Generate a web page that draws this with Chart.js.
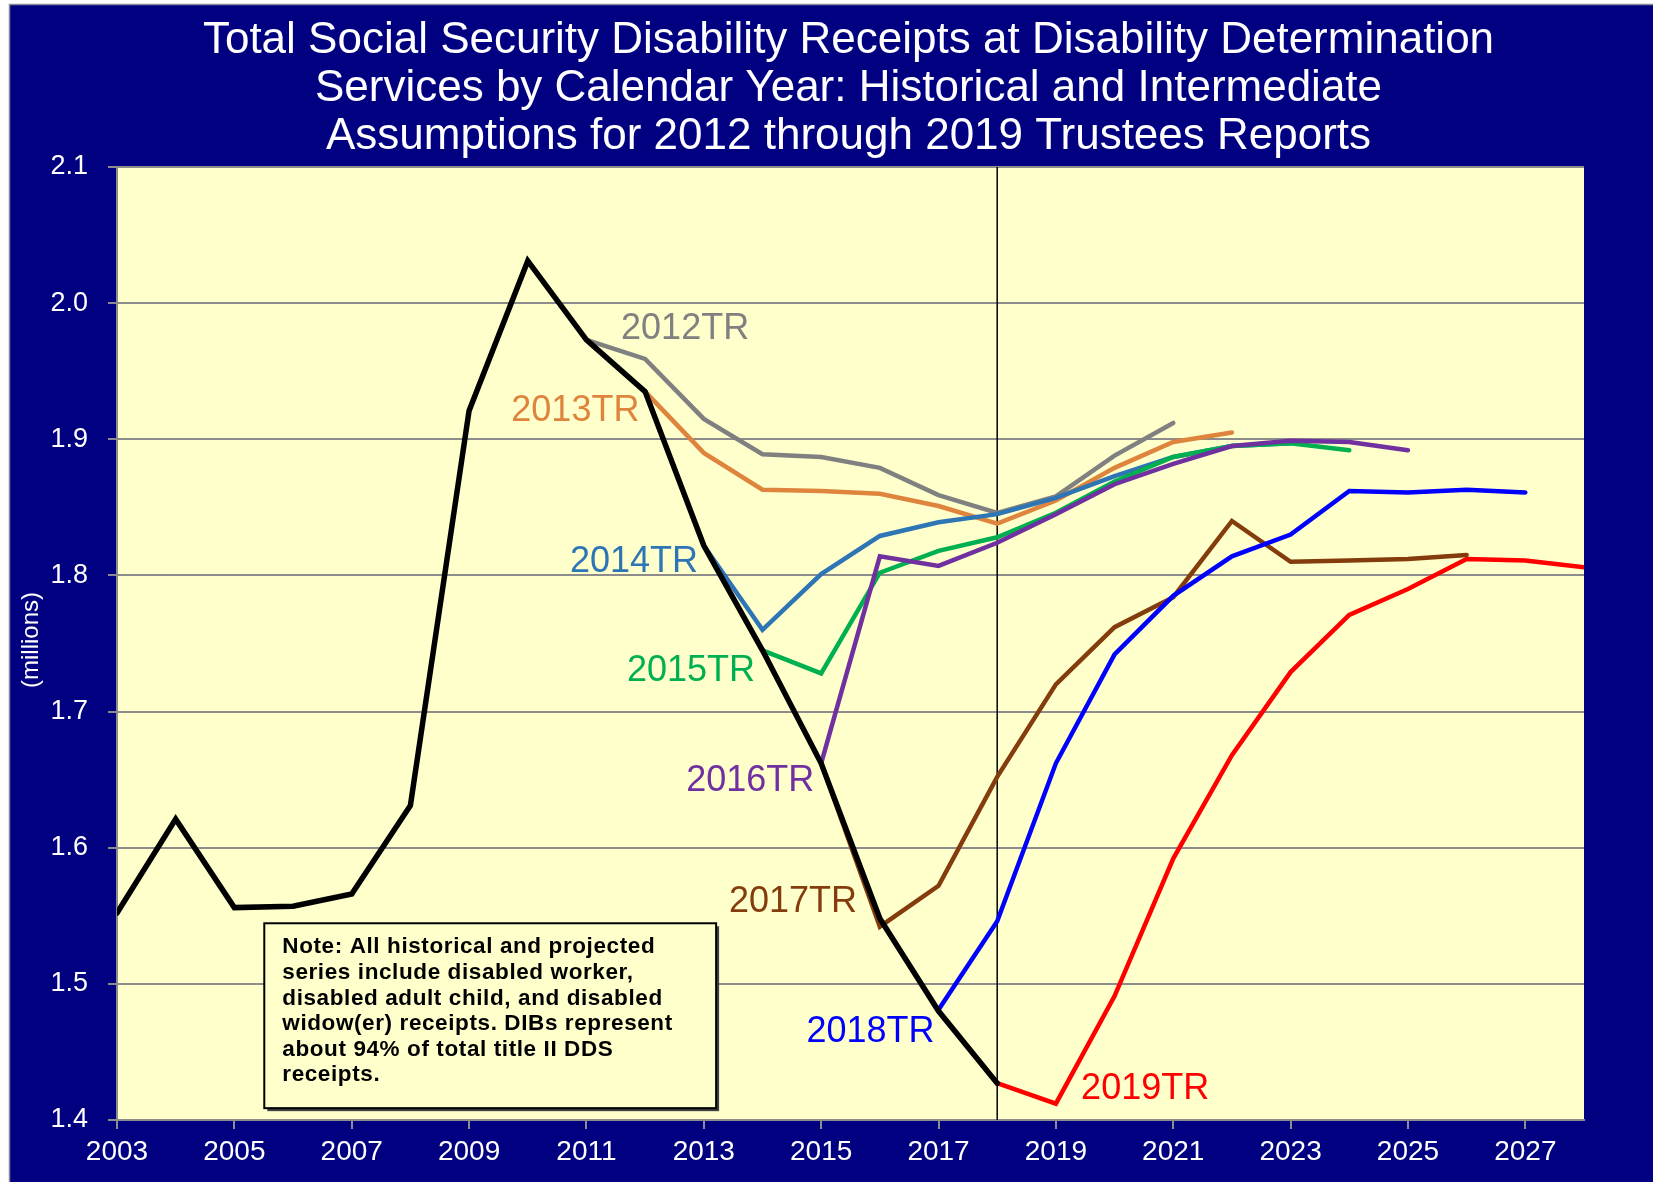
<!DOCTYPE html>
<html>
<head>
<meta charset="utf-8">
<title>Total Social Security Disability Receipts at DDS</title>
<script src="https://cdn.jsdelivr.net/npm/chart.js"></script>
<style>
  html, body { margin: 0; padding: 0; background: #ffffff; }
  canvas { display: block; }
</style>
</head>
<body>
<canvas id="ddsChart" width="1653" height="1182"></canvas>
<script>
// ---- data (millions of receipts) ----
const histYears = [2003, 2004, 2005, 2006, 2007, 2008, 2009, 2010, 2011, 2012, 2013, 2014, 2015, 2016, 2017, 2018];
const historical = [1.552, 1.621, 1.556, 1.557, 1.566, 1.631, 1.921, 2.031, 1.973, 1.935, 1.822, 1.745, 1.662, 1.548, 1.480, 1.427];

const tr2012Years = [2011, 2012, 2013, 2014, 2015, 2016, 2017, 2018, 2019, 2020, 2021];
const tr2012 = [1.973, 1.959, 1.915, 1.889, 1.887, 1.879, 1.859, 1.846, 1.858, 1.888, 1.912];

const tr2013Years = [2012, 2013, 2014, 2015, 2016, 2017, 2018, 2019, 2020, 2021, 2022];
const tr2013 = [1.935, 1.890, 1.863, 1.862, 1.860, 1.851, 1.838, 1.855, 1.879, 1.898, 1.905];

const tr2014Years = [2013, 2014, 2015, 2016, 2017, 2018, 2019, 2020, 2021, 2022, 2023];
const tr2014 = [1.822, 1.760, 1.801, 1.829, 1.839, 1.845, 1.857, 1.873, 1.887, 1.895, 1.897];

const tr2015Years = [2014, 2015, 2016, 2017, 2018, 2019, 2020, 2021, 2022, 2023, 2024];
const tr2015 = [1.745, 1.728, 1.802, 1.818, 1.828, 1.846, 1.869, 1.887, 1.895, 1.897, 1.892];

const tr2016Years = [2015, 2016, 2017, 2018, 2019, 2020, 2021, 2022, 2023, 2024, 2025];
const tr2016 = [1.662, 1.814, 1.807, 1.824, 1.845, 1.867, 1.882, 1.895, 1.899, 1.898, 1.892];

const tr2017Years = [2015, 2016, 2017, 2018, 2019, 2020, 2021, 2022, 2023, 2024, 2025, 2026];
const tr2017 = [1.662, 1.542, 1.572, 1.652, 1.720, 1.762, 1.784, 1.840, 1.810, 1.811, 1.812, 1.815];

const tr2018Years = [2017, 2018, 2019, 2020, 2021, 2022, 2023, 2024, 2025, 2026, 2027];
const tr2018 = [1.481, 1.546, 1.662, 1.742, 1.785, 1.814, 1.830, 1.862, 1.861, 1.863, 1.861];

const tr2019Years = [2018, 2019, 2020, 2021, 2022, 2023, 2024, 2025, 2026, 2027, 2028];
const tr2019 = [1.427, 1.412, 1.491, 1.592, 1.668, 1.729, 1.771, 1.790, 1.812, 1.811, 1.806];

const xTicks = [2003, 2005, 2007, 2009, 2011, 2013, 2015, 2017, 2019, 2021, 2023, 2025, 2027];
const yTicks = [1.4, 1.5, 1.6, 1.7, 1.8, 1.9, 2.0, 2.1];
const lastHistYear = 2018;

const titleLines = [
  'Total Social Security Disability Receipts at Disability Determination',
  'Services by Calendar Year: Historical and Intermediate',
  'Assumptions for 2012 through 2019 Trustees Reports'
];
const noteLines = [
  'Note: All historical and projected',
  'series include disabled worker,',
  'disabled adult child, and disabled',
  'widow(er) receipts. DIBs represent',
  'about 94% of total title II DDS',
  'receipts.'
];

// ---- helpers ----
function pts(xs, ys) {
  return xs.map((x, i) => ({ x: x, y: ys[i] }));
}

function series(label, xs, ys, color, width, order) {
  return {
    label: label,
    data: pts(xs, ys),
    borderColor: color,
    backgroundColor: color,
    borderWidth: width,
    pointRadius: 0,
    tension: 0,
    borderCapStyle: 'round',
    borderJoinStyle: 'miter',
    order: order
  };
}

// label anchors in data units (left edge, vertical middle)
const seriesLabels = [
  { text: '2012TR', color: '#808080', x: 2011.59, y: 1.983 },
  { text: '2013TR', color: '#DE843C', x: 2009.72, y: 1.923 },
  { text: '2014TR', color: '#2E75B6', x: 2010.72, y: 1.812 },
  { text: '2015TR', color: '#00B050', x: 2011.69, y: 1.732 },
  { text: '2016TR', color: '#7030A0', x: 2012.70, y: 1.651 },
  { text: '2017TR', color: '#843C0C', x: 2013.43, y: 1.562 },
  { text: '2018TR', color: '#0000FF', x: 2014.75, y: 1.467 },
  { text: '2019TR', color: '#FF0000', x: 2019.43, y: 1.425 }
];

const frame = {
  id: 'frame',
  beforeDraw(chart) {
    const { ctx, chartArea: a, width, height } = chart;
    ctx.save();
    ctx.fillStyle = '#ffffff';
    ctx.fillRect(0, 0, width, height);
    ctx.fillStyle = '#000080';
    ctx.fillRect(9, 4, width - 9, height - 4);
    ctx.strokeStyle = '#8a8a9a';
    ctx.lineWidth = 1.5;
    ctx.strokeRect(9.5, 4.5, width, height);
    ctx.fillStyle = '#FFFFCC';
    ctx.fillRect(a.left, a.top, a.right - a.left, a.bottom - a.top);

    // title
    ctx.fillStyle = '#ffffff';
    ctx.font = '44px "Liberation Sans", Arial, sans-serif';
    ctx.textAlign = 'center';
    ctx.textBaseline = 'middle';
    const cx = (a.left + a.right) / 2 - 2;
    titleLines.forEach((t, i) => ctx.fillText(t, cx, 41 + i * 48));

    // y axis caption
    ctx.font = '24px "Liberation Sans", Arial, sans-serif';
    ctx.translate(31, 640);
    ctx.rotate(-Math.PI / 2);
    ctx.fillText('(millions)', 0, 0);
    ctx.restore();
  },
  beforeDatasetsDraw(chart) {
    const { ctx, chartArea: a, scales } = chart;
    const x = scales.x.getPixelForValue(lastHistYear);
    ctx.save();
    ctx.strokeStyle = '#000000';
    ctx.lineWidth = 1.5;
    ctx.beginPath();
    ctx.moveTo(x, a.top);
    ctx.lineTo(x, a.bottom);
    ctx.stroke();
    ctx.restore();
  },
  afterDatasetsDraw(chart) {
    const { ctx, scales } = chart;
    ctx.save();
    ctx.font = '36px "Liberation Sans", Arial, sans-serif';
    ctx.textAlign = 'left';
    ctx.textBaseline = 'middle';
    seriesLabels.forEach(l => {
      ctx.fillStyle = l.color;
      ctx.fillText(l.text, scales.x.getPixelForValue(l.x), scales.y.getPixelForValue(l.y) + 3);
    });

    // note box
    const bx = scales.x.getPixelForValue(2005.51);
    const by = scales.y.getPixelForValue(1.5445);
    const bw = scales.x.getPixelForValue(2013.21) - bx;
    const bh = scales.y.getPixelForValue(1.4087) - by;
    ctx.fillStyle = '#404040';
    ctx.fillRect(bx + 3, by + 3, bw, bh);
    ctx.fillStyle = '#FFFFCC';
    ctx.fillRect(bx, by, bw, bh);
    ctx.strokeStyle = '#000000';
    ctx.lineWidth = 2;
    ctx.strokeRect(bx, by, bw, bh);
    ctx.fillStyle = '#000000';
    ctx.font = 'bold 22.5px "Liberation Sans", Arial, sans-serif';
    ctx.letterSpacing = '0.6px';
    noteLines.forEach((t, i) => ctx.fillText(t, bx + 18, by + 24 + i * 25.6));
    ctx.restore();
  }
};

const ctx = document.getElementById('ddsChart').getContext('2d');
new Chart(ctx, {
  type: 'line',
  data: {
    datasets: [
      series('Historical', histYears, historical, '#000000', 5.5, 0),
      series('2019TR', tr2019Years, tr2019, '#FF0000', 4.5, 1),
      series('2018TR', tr2018Years, tr2018, '#0000FF', 4.5, 2),
      series('2017TR', tr2017Years, tr2017, '#843C0C', 4.5, 3),
      series('2016TR', tr2016Years, tr2016, '#7030A0', 4.5, 4),
      series('2015TR', tr2015Years, tr2015, '#00B050', 4.5, 5),
      series('2014TR', tr2014Years, tr2014, '#2E75B6', 4.5, 6),
      series('2013TR', tr2013Years, tr2013, '#DE843C', 4.5, 7),
      series('2012TR', tr2012Years, tr2012, '#808080', 4.5, 8)
    ]
  },
  options: {
    responsive: false,
    animation: false,
    layout: { padding: { top: 167, right: 69, left: 0, bottom: 0 } },
    plugins: {
      legend: { display: false },
      tooltip: { enabled: false },
      title: { display: false }
    },
    scales: {
      x: {
        type: 'linear',
        min: 2003,
        max: 2028,
        afterBuildTicks: s => { s.ticks = xTicks.map(v => ({ value: v })); },
        afterFit: s => { s.height = 62; },
        grid: { drawOnChartArea: false, drawTicks: true, tickLength: 9, color: '#8c8c8c', lineWidth: 2 },
        border: { display: true, color: '#8c8c8c', width: 2 },
        ticks: {
          color: '#ffffff',
          padding: 6,
          maxRotation: 0,
          autoSkip: false,
          font: { family: '"Liberation Sans", Arial, sans-serif', size: 28 },
          callback: v => String(v)
        }
      },
      y: {
        min: 1.4,
        max: 2.1,
        afterBuildTicks: s => { s.ticks = yTicks.map(v => ({ value: v })); },
        afterFit: s => { s.width = 117; },
        grid: { drawTicks: true, tickLength: 9, color: '#8c8c8c', lineWidth: 2 },
        border: { display: true, color: '#8c8c8c', width: 2 },
        ticks: {
          color: '#ffffff',
          padding: 20,
          autoSkip: false,
          font: { family: '"Liberation Sans", Arial, sans-serif', size: 27 },
          callback: v => Number(v).toFixed(1)
        }
      }
    }
  },
  plugins: [frame]
});
</script>
</body>
</html>
